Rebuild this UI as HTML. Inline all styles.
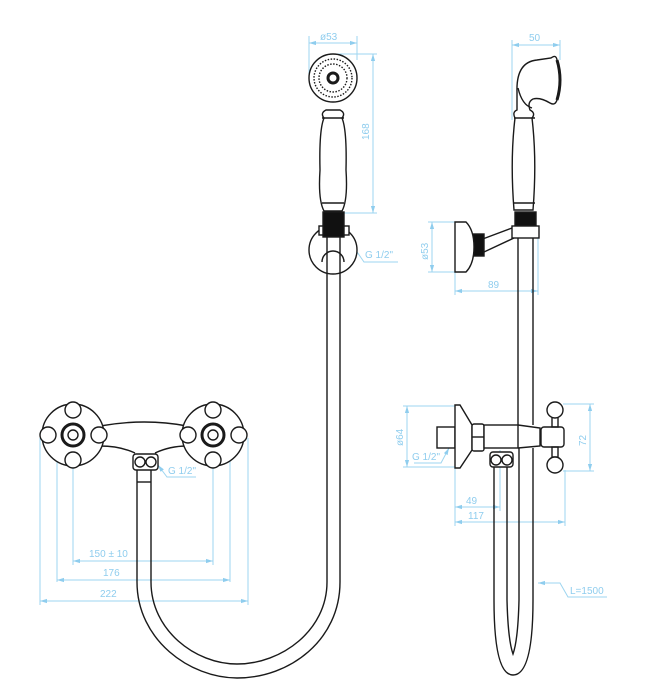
<!DOCTYPE html>
<html><head><meta charset="utf-8"><style>
html,body{margin:0;padding:0;background:#fff}
svg{display:block}
text{font-family:"Liberation Sans",sans-serif;font-size:10px;fill:#8fcdee}
</style></head><body>
<svg width="671" height="698" viewBox="0 0 671 698" xmlns="http://www.w3.org/2000/svg">
<defs>
<marker id="a" viewBox="0 0 10 10" refX="10" refY="5" markerWidth="7" markerHeight="7" orient="auto-start-reverse"><path d="M0,2 L10,5 L0,8z" fill="#8fcdee"/></marker>
</defs>
<g fill="none" stroke="#9dd5f0" stroke-width="1">
<line x1="309" y1="36" x2="309" y2="80"/><line x1="357" y1="36" x2="357" y2="60"/>
<line x1="309" y1="43" x2="357" y2="43" marker-start="url(#a)" marker-end="url(#a)"/>
<line x1="335" y1="54" x2="377" y2="54"/><line x1="340" y1="213" x2="377" y2="213"/>
<line x1="373" y1="54" x2="373" y2="213" marker-start="url(#a)" marker-end="url(#a)"/>
<polyline points="346,236 364,262 398,262" marker-start="url(#a)"/>
<line x1="40" y1="438" x2="40" y2="605"/><line x1="57" y1="438" x2="57" y2="582"/>
<line x1="73" y1="438" x2="73" y2="565"/><line x1="213" y1="438" x2="213" y2="565"/>
<line x1="230" y1="438" x2="230" y2="582"/><line x1="248" y1="438" x2="248" y2="605"/>
<line x1="73" y1="561" x2="213" y2="561" marker-start="url(#a)" marker-end="url(#a)"/>
<line x1="57" y1="580" x2="230" y2="580" marker-start="url(#a)" marker-end="url(#a)"/>
<line x1="40" y1="601" x2="248" y2="601" marker-start="url(#a)" marker-end="url(#a)"/>
<polyline points="158,465 167,477 196,477" marker-start="url(#a)"/>
<line x1="512" y1="40" x2="512" y2="120"/><line x1="560" y1="40" x2="560" y2="60"/>
<line x1="512" y1="45" x2="560" y2="45" marker-start="url(#a)" marker-end="url(#a)"/>
<line x1="428" y1="222" x2="460" y2="222"/><line x1="428" y1="272" x2="460" y2="272"/>
<line x1="432" y1="222" x2="432" y2="272" marker-start="url(#a)" marker-end="url(#a)"/>
<line x1="455" y1="272" x2="455" y2="295"/><line x1="538" y1="235" x2="538" y2="295"/>
<line x1="455" y1="291" x2="538" y2="291" marker-start="url(#a)" marker-end="url(#a)"/>
<line x1="403" y1="406" x2="458" y2="406"/><line x1="403" y1="467" x2="458" y2="467"/>
<line x1="407" y1="406" x2="407" y2="467" marker-start="url(#a)" marker-end="url(#a)"/>
<polyline points="449,448 441,463 414,463" marker-start="url(#a)"/>
<line x1="563" y1="404" x2="594" y2="404"/><line x1="563" y1="471" x2="594" y2="471"/>
<line x1="590" y1="404" x2="590" y2="471" marker-start="url(#a)" marker-end="url(#a)"/>
<line x1="455" y1="468" x2="455" y2="526"/><line x1="500" y1="450" x2="500" y2="511"/><line x1="565" y1="470" x2="565" y2="526"/>
<line x1="455" y1="507" x2="500" y2="507" marker-start="url(#a)" marker-end="url(#a)"/>
<line x1="455" y1="522" x2="565" y2="522" marker-start="url(#a)" marker-end="url(#a)"/>
<polyline points="538,583 560,583 568,597 607,597" marker-start="url(#a)"/>
</g>
<text x="320" y="40">ø53</text>
<text x="0" y="0" transform="translate(369,140) rotate(-90)">168</text>
<text x="365" y="258">G 1/2"</text>
<text x="89" y="557">150 ± 10</text>
<text x="103" y="576">176</text>
<text x="100" y="597">222</text>
<text x="168" y="474">G 1/2"</text>
<text x="529" y="41">50</text>
<text x="0" y="0" transform="translate(428,260) rotate(-90)">ø53</text>
<text x="488" y="288">89</text>
<text x="0" y="0" transform="translate(403,446) rotate(-90)">ø64</text>
<text x="412" y="460">G 1/2"</text>
<text x="0" y="0" transform="translate(586,446) rotate(-90)">72</text>
<text x="466" y="504">49</text>
<text x="468" y="519">117</text>
<text x="570" y="594">L=1500</text>

<g fill="none" stroke="#1a1a1a" stroke-width="1.4">
<path d="M100,426 Q145,418 187,426 M100,446 Q120,446 135,453 M155,453 Q170,446 187,446"/>
<circle cx="73" cy="435" r="31" fill="#fff"/><circle cx="213" cy="435" r="31" fill="#fff"/>
<g fill="#fff">
<circle cx="73" cy="435" r="11" stroke-width="3"/><circle cx="73" cy="435" r="5"/>
<circle cx="73" cy="410" r="8"/><circle cx="73" cy="460" r="8"/><circle cx="48" cy="435" r="8"/><circle cx="99" cy="435" r="8"/>
<circle cx="213" cy="435" r="11" stroke-width="3"/><circle cx="213" cy="435" r="5"/>
<circle cx="213" cy="410" r="8"/><circle cx="213" cy="460" r="8"/><circle cx="188" cy="435" r="8"/><circle cx="239" cy="435" r="8"/>
<rect x="133" y="454" width="25" height="16" rx="3"/>
<circle cx="140" cy="462" r="5"/><circle cx="151" cy="462" r="5"/>
</g>
<circle cx="333" cy="250" r="24" fill="#fff"/>
<path d="M137,470 V582 C137,640 190,678 237,678 C290,678 340,640 340,582 V237"/>
<path d="M151,470 V582 C151,630 195,664 237,664 C282,664 327,630 327,582 V237"/>
<line x1="137" y1="482" x2="151" y2="482"/>
<path d="M322,262 A11,11 0 1 1 344,262" />
<rect x="319" y="226" width="6" height="9" fill="#fff"/><rect x="343" y="226" width="6" height="9" fill="#fff"/>
<rect x="323" y="212" width="21" height="25" fill="#111"/>
<path d="M324,211 Q318,200 320,170 Q319,130 324,118 Q320,113 326,110 H340 Q346,113 342,118 Q347,130 346,170 Q348,200 342,211 Z" fill="#fff"/>
<line x1="322" y1="118" x2="344" y2="118"/><line x1="322" y1="203" x2="344" y2="203"/>
<circle cx="333" cy="78" r="24" fill="#fff"/>
<circle cx="333" cy="78" r="19" stroke-dasharray="1.5 1.5"/><circle cx="333" cy="78" r="14" stroke-dasharray="1.5 1.5"/>
<circle cx="333" cy="78" r="5" stroke-width="3"/>
<!-- right view top -->
<path d="M514,210 Q510,160 515,118 Q512,112 517,110 V92 Q516,62 537,60 L551,58 Q556,54 557,60 Q562,80 557,100 Q555,106 550,103 Q540,97 533,99 Q527,102 530,110 Q536,113 532,118 Q537,160 533,210 Z" fill="#fff"/>
<path d="M518,88 Q522,105 532,108"/>
<path d="M557,60 Q563,80 557,100" stroke-width="3"/>
<line x1="514" y1="118" x2="535" y2="118"/><line x1="514" y1="203" x2="535" y2="203"/>
<rect x="515" y="212" width="21" height="14" fill="#111"/>
<rect x="512" y="226" width="27" height="12" fill="#fff"/>
<path d="M480,240 L512,228 M484,252 L514,238"/>
<rect x="472" y="234" width="12" height="22" fill="#111"/>
<path d="M455,222 H466 Q474,230 474,247 Q474,264 466,272 H455 Z" fill="#fff"/>
<line x1="518" y1="238" x2="518" y2="425"/><line x1="533" y1="238" x2="533" y2="425"/>
<path d="M494,467 V600 Q494,675 513,675 Q533,675 533,600 V448"/>
<path d="M507,467 V600 Q508,640 513,654 Q518,640 519,600 V448"/>
<rect x="437" y="427" width="18" height="21" fill="#fff"/>
<path d="M455,405 H460 L472,425 V450 L460,468 H455 Z" fill="#fff"/>
<rect x="472" y="424" width="12" height="27" rx="2" fill="#fff"/>
<line x1="472" y1="437" x2="484" y2="437"/>
<rect x="484" y="425" width="34" height="23" fill="#fff"/>
<path d="M518,425 L540,428 V446 L518,448"/>
<rect x="490" y="452" width="23" height="15" rx="3" fill="#fff"/>
<circle cx="496" cy="460" r="5"/><circle cx="507" cy="460" r="5"/>
<rect x="541" y="427" width="23" height="20" rx="3" fill="#fff"/>
<rect x="552" y="417" width="6" height="10"/><rect x="552" y="447" width="6" height="10"/>
<circle cx="555" cy="410" r="8" fill="#fff"/><circle cx="555" cy="465" r="8" fill="#fff"/>
</g>
</svg>
</body></html>
